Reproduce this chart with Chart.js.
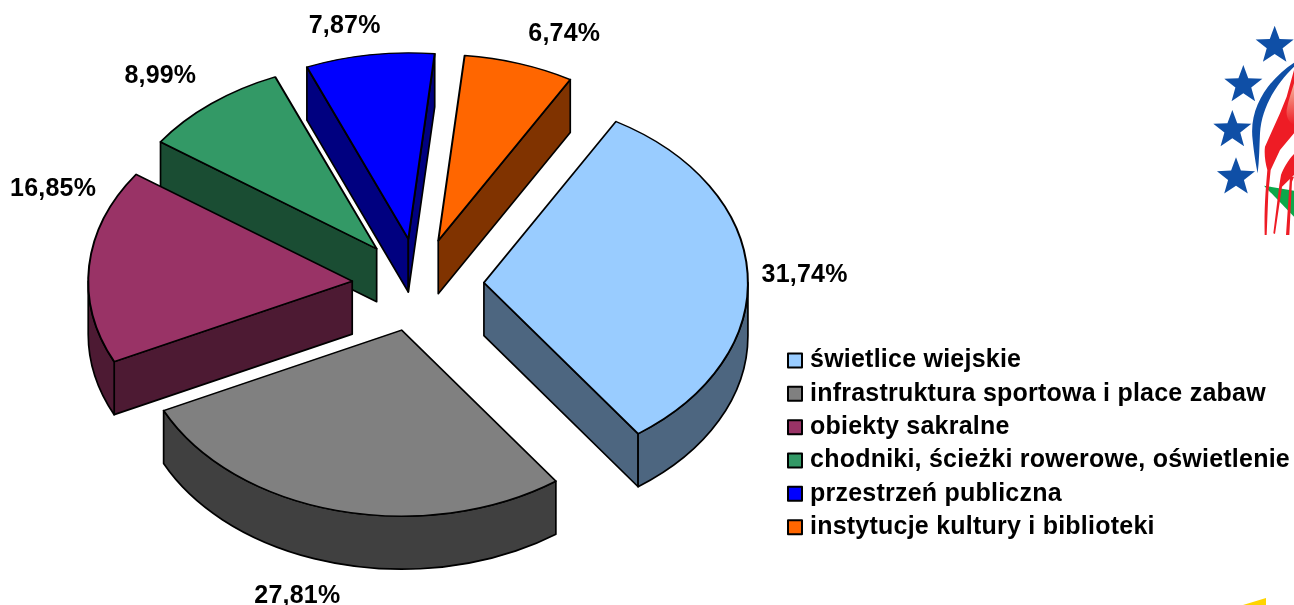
<!DOCTYPE html>
<html lang="pl">
<head>
<meta charset="utf-8">
<style>
html,body{margin:0;padding:0;background:#fff;overflow:hidden}
#wrap{position:relative;width:1294px;height:605px}
canvas{position:absolute;left:0;top:0}
svg{position:absolute}
</style>
<script src="https://cdn.jsdelivr.net/npm/chart.js@4"></script>
</head>
<body>
<div id="wrap">
<svg id="logo" style="left:1180px;top:0" width="114" height="250" viewBox="0 0 342 750">
  <defs><linearGradient id="g" x1="0" y1="0" x2="0" y2="1"><stop offset="0" stop-color="#f7b9a0"/><stop offset="1" stop-color="#ee1c25"/></linearGradient></defs>
  <g id="stars" fill="#0f4fa6"></g>
  <path fill="#0f4fa6" d="M342 188C270 235 205 320 218 420C222 460 228 495 233 520C238 480 238 440 240 400C245 320 290 250 342 200Z"/>
  <path fill="#0ba84a" d="M252 557L342 572L342 650Z"/>
  <path fill="#ee1c25" d="M255 440L275 395L300 340L320 290L342 210L342 400L300 450L272 510L265 580L260 705L254 705C252 620 258 560 262 510C256 490 252 460 255 440Z"/>
  <path fill="url(#g)" d="M342 250C335 275 325 300 320 330C318 350 325 365 342 375Z"/>
  <path fill="#ee1c25" d="M342 462C325 480 310 505 303 525L298 555L280 700L285 702L306 560L342 525Z"/>
  <path fill="#ee1c25" d="M330 530L318 705L328 705L336 545L342 530Z"/>
</svg>
<svg style="left:1240px;top:595px" width="30" height="10" viewBox="1240 595 30 10"><polygon fill="#ffd400" points="1243,605 1266,598 1266,605"/></svg>
<canvas id="c" width="1294" height="605"></canvas>
</div>
<script>
const categories = ['świetlice wiejskie','infrastruktura sportowa i place zabaw','obiekty sakralne','chodniki, ścieżki rowerowe, oświetlenie','przestrzeń publiczna','instytucje kultury i biblioteki'];
const shares = [31.74,27.81,16.85,8.99,7.87,6.74];
const sliceColors = ['#99CCFF','#808080','#993366','#339966','#0000FF','#FF6600'];
const sideColors = ['#4D6680','#404040','#4D1A33','#1A4D33','#000080','#803300'];

const TILT = 0.705, DEPTH = 53, EXPLODE = 66, RADIUS = 264;
const LEGEND_X = 784.15, LEGEND_Y = 339.6;
const LABEL_FONT = 'bold 25px "Liberation Sans", Arial, sans-serif';
const labelShift = [[57,2],[-39,86],[-36,-77],[-51,-28],[-25,-29],[45,-29]];

// stars of the logo
(function(){
  const g=document.getElementById('stars');
  [[284,137],[190,255],[157,390],[168,532]].forEach(function(c){
    const p=[];
    for(let i=0;i<10;i++){const r=i%2?25:60,a=-Math.PI/2+i*Math.PI/5;p.push((c[0]+r*Math.cos(a)).toFixed(1)+','+(c[1]+r*Math.sin(a)).toFixed(1));}
    const e=document.createElementNS('http://www.w3.org/2000/svg','polygon');
    e.setAttribute('points',p.join(' '));g.appendChild(e);
  });
})();

const pie3d = {
  id:'pie3d',
  afterLayout(chart){
    const l=chart.legend;
    l.left=LEGEND_X; l.right=1294; l.top=LEGEND_Y; l.bottom=605;
  },
  afterDatasetsUpdate(chart){
    chart.getDatasetMeta(0).data.forEach(function(a){
      const mid=(a.startAngle+a.endAngle)/2;
      a.x+=Math.cos(mid)*EXPLODE;
      a.y+=Math.sin(mid)*EXPLODE;
    });
  },
  beforeDraw(chart){ chart.ctx.letterSpacing='0.23px'; },
  beforeDatasetsDraw(chart){
    const ctx=chart.ctx, area=chart.chartArea, cy=(area.top+area.bottom)/2;
    ctx.letterSpacing='0px';
    ctx.save();
    const base=ctx.getTransform();
    ctx.translate(0,cy);ctx.scale(1,TILT);ctx.translate(0,-cy);
    const squash=ctx.getTransform();
    const d=DEPTH/TILT;
    const arcs=chart.getDatasetMeta(0).data.map(function(a,i){return {a:a,i:i};})
      .sort(function(p,q){return p.a.y-q.a.y;});
    function paint(color){
      ctx.setTransform(base);
      ctx.fillStyle=color;ctx.strokeStyle='#000';ctx.lineWidth=1.7;ctx.lineJoin='round';
      ctx.fill();ctx.stroke();
      ctx.setTransform(squash);
    }
    function wall(a,ang,color){
      const ex=a.x+Math.cos(ang)*a.outerRadius, ey=a.y+Math.sin(ang)*a.outerRadius;
      ctx.beginPath();ctx.moveTo(a.x,a.y);ctx.lineTo(ex,ey);ctx.lineTo(ex,ey+d);ctx.lineTo(a.x,a.y+d);ctx.closePath();
      paint(color);
    }
    arcs.forEach(function(o){
      const a=o.a,c=sideColors[o.i],s=a.startAngle,e=a.endAngle;
      if(Math.cos(s)<0) wall(a,s,c);
      if(Math.cos(e)>0) wall(a,e,c);
      const r0=Math.max(s,0), r1=Math.min(e,Math.PI);
      if(r1>r0){
        ctx.beginPath();ctx.arc(a.x,a.y,a.outerRadius,r0,r1);ctx.arc(a.x,a.y+d,a.outerRadius,r1,r0,true);ctx.closePath();
        paint(c);
      }
    });
  },
  afterDatasetsDraw(chart){ chart.ctx.restore(); },
  afterDraw(chart){
    const ctx=chart.ctx, area=chart.chartArea, cy=(area.top+area.bottom)/2;
    ctx.save();
    ctx.font=LABEL_FONT;ctx.letterSpacing='0.2px';ctx.fillStyle='#000';ctx.textAlign='center';ctx.textBaseline='middle';
    chart.getDatasetMeta(0).data.forEach(function(a,i){
      const mid=(a.startAngle+a.endAngle)/2;
      const x=a.x+Math.cos(mid)*a.outerRadius;
      const y=cy+(a.y+Math.sin(mid)*a.outerRadius-cy)*TILT;
      ctx.fillText(shares[i].toFixed(2).replace('.',',')+'%',x+labelShift[i][0],y+labelShift[i][1]);
    });
    ctx.restore();
    ctx.letterSpacing='0px';
  }
};

new Chart(document.getElementById('c'),{
  type:'pie',
  data:{labels:categories,datasets:[{
    data:shares,backgroundColor:sliceColors,borderColor:'#000',borderWidth:2,borderJoinStyle:'round',clip:false
  }]},
  options:{
    responsive:false,animation:false,events:[],
    rotation:30,radius:RADIUS,
    layout:{padding:{left:0,right:458,top:0,bottom:35}},
    plugins:{
      tooltip:{enabled:false},
      legend:{
        position:'chartArea',align:'start',
        labels:{
          usePointStyle:true,pointStyle:'rect',boxWidth:5,boxHeight:14,padding:8.35,color:'#000',
          font:{family:'"Liberation Sans", Arial, sans-serif',size:25,weight:'bold'}
        }
      }
    }
  },
  plugins:[pie3d]
});
</script>
</body>
</html>
